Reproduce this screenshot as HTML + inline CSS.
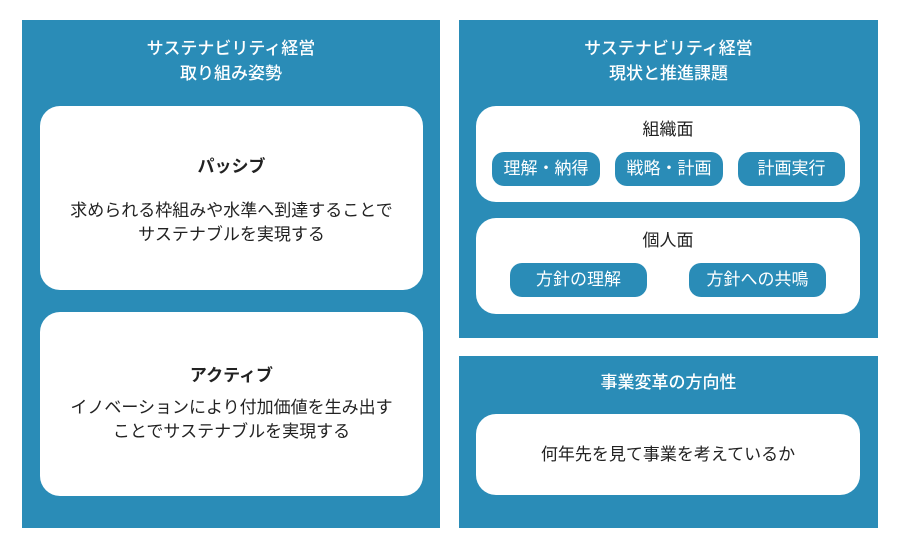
<!DOCTYPE html>
<html><head><meta charset="utf-8"><style>
body{margin:0;width:900px;height:547px;background:#fff;position:relative;font-family:"Liberation Sans","Noto Sans CJK JP",sans-serif;overflow:hidden}
.p{position:absolute;background:#2a8cb7}
.w{position:absolute;background:#fff;border-radius:20px}
.t{position:absolute;left:0;right:0;text-align:center;color:#fff;font-size:17px;line-height:25px;font-weight:500}
.x{position:absolute;left:0;right:0;text-align:center;color:#222;font-size:17px;line-height:24px}
.b{font-weight:bold}
.pill{position:absolute;background:#2a8cb7;color:#fff;border-radius:12px;font-size:17px;text-align:center;line-height:34px;height:34px}
</style></head><body>
<div class="p" style="left:22px;top:20px;width:418px;height:508px"></div>
<div class="t" style="left:22px;width:418px;right:auto;top:36px">サステナビリティ経営<br>取り組み姿勢</div>
<div class="w" style="left:40px;top:106px;width:383px;height:184px"></div>
<div class="x b" style="left:40px;width:383px;right:auto;top:155px">パッシブ</div>
<div class="x" style="left:40px;width:383px;right:auto;top:199px">求められる枠組みや水準へ到達することで<br>サステナブルを実現する</div>
<div class="w" style="left:40px;top:312px;width:383px;height:184px"></div>
<div class="x b" style="left:40px;width:383px;right:auto;top:364px">アクティブ</div>
<div class="x" style="left:40px;width:383px;right:auto;top:396px">イノベーションにより付加価値を生み出す<br>ことでサステナブルを実現する</div>

<div class="p" style="left:459px;top:20px;width:419px;height:318px"></div>
<div class="t" style="left:459px;width:419px;right:auto;top:36px">サステナビリティ経営<br>現状と推進課題</div>
<div class="w" style="left:476px;top:106px;width:384px;height:96px"></div>
<div class="x" style="left:476px;width:384px;right:auto;top:118px">組織面</div>
<div class="pill" style="left:492px;top:152px;width:108px">理解・納得</div>
<div class="pill" style="left:615px;top:152px;width:108px">戦略・計画</div>
<div class="pill" style="left:738px;top:152px;width:107px">計画実行</div>
<div class="w" style="left:476px;top:218px;width:384px;height:96px"></div>
<div class="x" style="left:476px;width:384px;right:auto;top:229px">個人面</div>
<div class="pill" style="left:510px;top:263px;width:137px">方針の理解</div>
<div class="pill" style="left:689px;top:263px;width:137px">方針への共鳴</div>

<div class="p" style="left:459px;top:356px;width:419px;height:172px"></div>
<div class="t" style="left:459px;width:419px;right:auto;top:370px">事業変革の方向性</div>
<div class="w" style="left:476px;top:414px;width:384px;height:81px"></div>
<div class="x" style="left:476px;width:384px;right:auto;top:443px">何年先を見て事業を考えているか</div>
</body></html>
